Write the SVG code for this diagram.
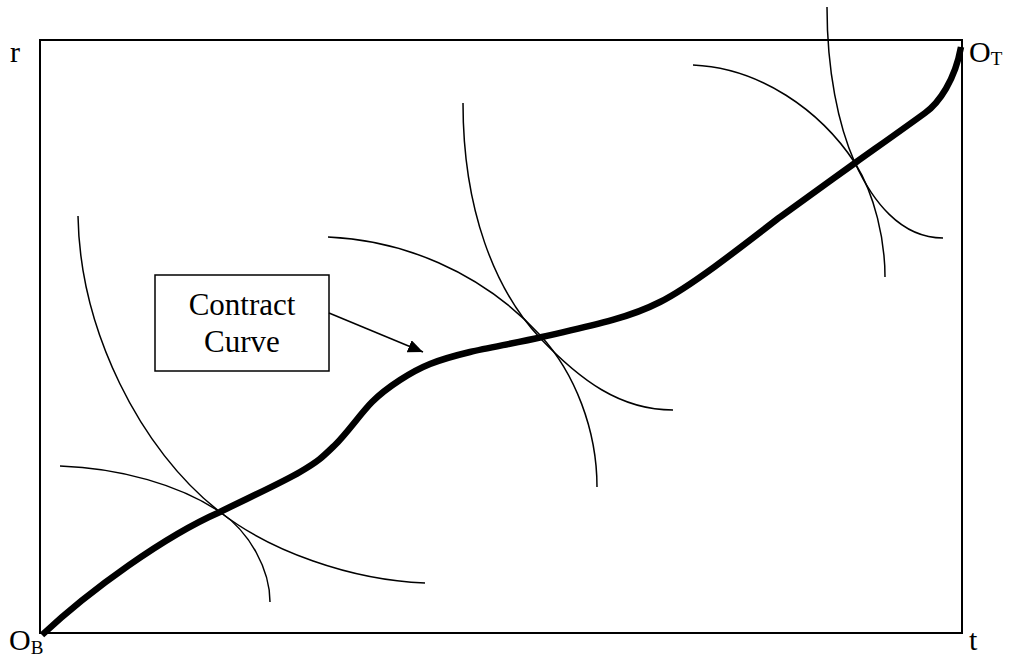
<svg xmlns="http://www.w3.org/2000/svg" width="1010" height="656" viewBox="0 0 1010 656">
<style>
.lbl{font-family:"Liberation Serif","Times New Roman",serif;font-size:30px;fill:#000}
.sub{font-size:19px}
.ic{fill:none;stroke:#000;stroke-width:1.5}
.cc{fill:none;stroke:#000;stroke-width:6.5;stroke-linecap:butt}
</style>
<defs>
<marker id="ah" markerUnits="userSpaceOnUse" markerWidth="16" markerHeight="13" refX="15" refY="6.5" orient="auto">
<path d="M0,0 L15,6.5 L0,13 z" fill="#000"/>
</marker>
</defs>
<rect width="1010" height="656" fill="#fff"/>
<g id="frame">
<rect x="40" y="40" width="922" height="593" fill="none" stroke="#000" stroke-width="2"/>
</g>
<g id="axis-labels">
<text class="lbl" x="10" y="62">r</text>
<text class="lbl" x="969" y="62">O<tspan class="sub" dy="3">T</tspan></text>
<text class="lbl" x="9" y="650">O<tspan class="sub" dy="4">B</tspan></text>
<text class="lbl" x="969" y="650">t</text>
</g>
<g id="indifference-curves">
<path class="ic" d="M78,216 C80,330 140,450 220,512 C270,551 350,580 425,583"/>
<path class="ic" d="M60,466 C120,468 180,485 220,512 C250,532 270,570 270,602"/>
<path class="ic" d="M463,103 C463,210 495,290 540,338 C580,380 620,410 673,410"/>
<path class="ic" d="M328,237 C400,240 480,270 540,335 C575,373 597,430 597,487"/>
<path class="ic" d="M827,7 C827,70 838,125 855,163 C872,200 900,238 943,238"/>
<path class="ic" d="M693,65 C760,68 820,110 855,163 C875,195 885,240 885,277"/>
</g>
<g id="contract-curve">
<path class="cc" d="M42,635 C90,590 165,536 220,512 C243.3,500.3 280.8,483.2 300,472 C319.2,460.8 323,456.7 335,445 C347,433.3 361.2,412.8 372,402 C382.8,391.2 390.3,386.3 400,380 C409.7,373.7 418.3,368.7 430,364 C441.7,359.3 451.3,356.5 470,352 C488.7,347.5 517,342.8 542,337 C580,328 625,320 660,302 C690,287 740,248 780,217 C809.2,195.8 830,180.8 855,163 C880,145.2 910,124 925,113 C939,103 955,80 961,47"/>
</g>
<g id="label-box">
<rect x="155" y="275" width="174" height="96" fill="#fff" stroke="#000" stroke-width="1.5"/>
<text class="lbl" x="242" y="315" text-anchor="middle" style="font-size:31px">Contract</text>
<text class="lbl" x="242" y="352" text-anchor="middle" style="font-size:31px">Curve</text>
</g>
<g id="connectors">
<line x1="329" y1="313" x2="423" y2="352" stroke="#000" stroke-width="1.5" marker-end="url(#ah)"/>
</g>
</svg>
